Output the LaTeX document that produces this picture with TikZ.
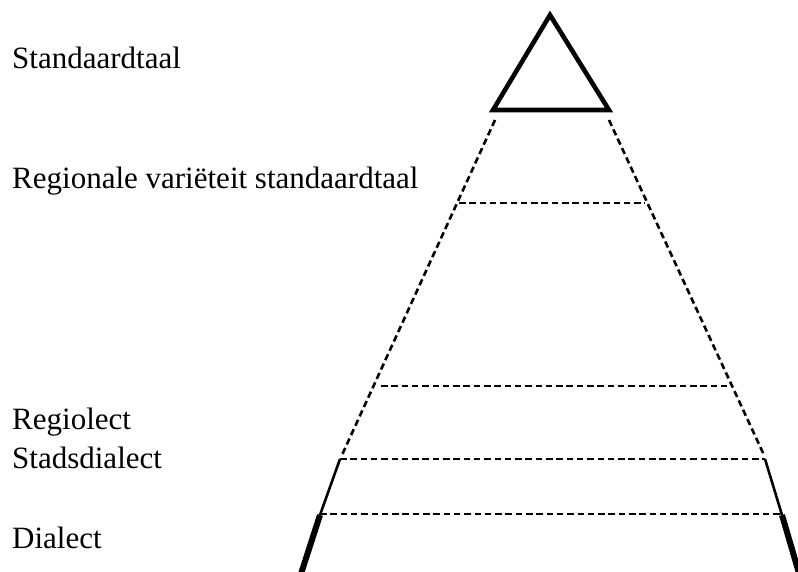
\documentclass[tikz,border=0pt]{standalone}
\usepackage{fontspec}
\setmainfont{Liberation Serif}
\begin{document}
\begin{tikzpicture}[x=1pt,y=-1pt,
  lbl/.style={anchor=base west,inner sep=0pt,font=\fontsize{31}{37}\selectfont},
  dashline/.style={line width=2.6pt,dash pattern=on 6.5pt off 3.8pt},
  thinline/.style={line width=2.6pt},
  thickline/.style={line width=6pt},
  apexline/.style={line width=4.6pt,line join=miter}]
\useasboundingbox (0,0) rectangle (798,571);
% coordinates
\coordinate (A) at (550,15);
\coordinate (BL) at (493,110);
\coordinate (BR) at (609,110);
\coordinate (DL1) at (495,120);
\coordinate (DR1) at (609,120);
\coordinate (DL2) at (342,455);
\coordinate (DR2) at (764,455);
\coordinate (SL) at (340,459);
\coordinate (SR) at (765,459);
\coordinate (TL) at (320,515);
\coordinate (TR) at (782,515);
\coordinate (EL) at (299,580);
\coordinate (ER) at (801,580);
\coordinate (R1a) at (459,203);
\coordinate (R1b) at (645,203);
\coordinate (R2a) at (381,386);
\coordinate (R2b) at (727,386);
\coordinate (R4a) at (320,514);
\coordinate (R4b) at (782,514);
% apex triangle
\draw[apexline] (A) -- (BR) -- (BL) -- cycle;
% dashed sides
\draw[dashline] (DL1) -- (DL2);
\draw[dashline] (DR1) -- (DR2);
% horizontal dashed lines
\draw[dashline] (R1a) -- (R1b);
\draw[dashline] (R2a) -- (R2b);
\draw[dashline] (SL) -- (SR);
\draw[dashline] (R4a) -- (R4b);
% solid sides
\draw[thinline] (SL) -- (TL);
\draw[thinline] (SR) -- (TR);
\draw[thickline] (TL) -- (EL);
\draw[thickline] (TR) -- (ER);
% labels
\node[lbl] (l1) at (12,68) {Standaardtaal};
\node[lbl] (l2) at (12,188) {Regionale variëteit standaardtaal};
\node[lbl] (l3) at (12,429) {Regiolect};
\node[lbl] (l4) at (12,468) {Stadsdialect};
\node[lbl] (l5) at (12,548) {Dialect};
\end{tikzpicture}
\end{document}
